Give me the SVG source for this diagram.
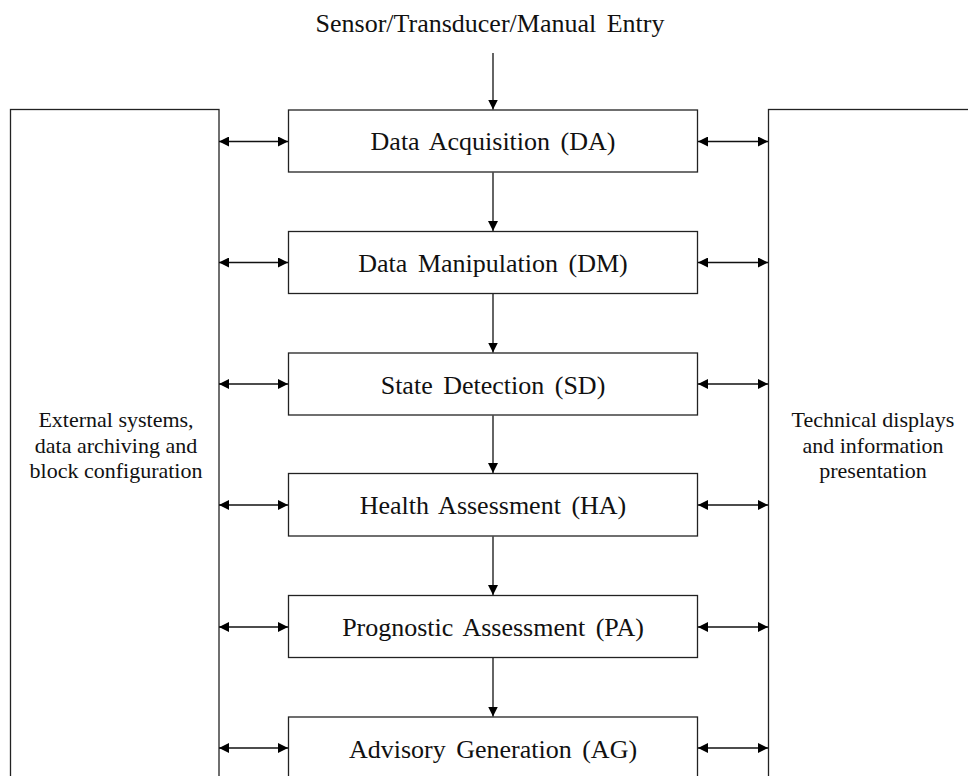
<svg xmlns="http://www.w3.org/2000/svg" width="968" height="776" viewBox="0 0 968 776">
<defs>
<marker id="ah" viewBox="0 0 10 10" refX="10" refY="5" markerWidth="10" markerHeight="10" markerUnits="userSpaceOnUse" orient="auto-start-reverse">
<path d="M0,0 L10,5 L0,10 z" fill="#000"/>
</marker>
<style>
.box{fill:#fff;stroke:#222;stroke-width:1.3}
.lbl{font-family:"Liberation Serif","Times New Roman",serif;font-size:26px;fill:#111;text-anchor:middle;word-spacing:4px}
.side{font-family:"Liberation Serif","Times New Roman",serif;font-size:22px;fill:#111;text-anchor:middle}
.c{stroke:#111;stroke-width:1.3;fill:none}
</style>
</defs>
<rect width="968" height="776" fill="#fff"/>
<text class="lbl" x="490" y="32">Sensor/Transducer/Manual Entry</text>
<g id="external">
<rect class="box" x="10.5" y="109.5" width="208.5" height="700"/>
<text class="side" x="116" y="427">External systems,</text>
<text class="side" x="116" y="453">data archiving and</text>
<text class="side" x="116" y="478">block configuration</text>
</g>
<g id="displays">
<rect class="box" x="768.5" y="109.5" width="260" height="700"/>
<text class="side" x="873" y="427">Technical displays</text>
<text class="side" x="873" y="453">and information</text>
<text class="side" x="873" y="478">presentation</text>
</g>
<g id="DA"><rect class="box" x="288.5" y="110" width="409" height="62"/><text class="lbl" x="493" y="150">Data Acquisition (DA)</text></g>
<g id="DM"><rect class="box" x="288.5" y="231.5" width="409" height="62"/><text class="lbl" x="493" y="272">Data Manipulation (DM)</text></g>
<g id="SD"><rect class="box" x="288.5" y="353" width="409" height="62"/><text class="lbl" x="493" y="393.5">State Detection (SD)</text></g>
<g id="HA"><rect class="box" x="288.5" y="473.5" width="409" height="62.5"/><text class="lbl" x="493" y="514">Health Assessment (HA)</text></g>
<g id="PA"><rect class="box" x="288.5" y="595.5" width="409" height="62"/><text class="lbl" x="493" y="636">Prognostic Assessment (PA)</text></g>
<g id="AG"><rect class="box" x="288.5" y="717" width="409" height="80"/><text class="lbl" x="493" y="757.5">Advisory Generation (AG)</text></g>
<g id="connectors">
<line class="c" x1="493" y1="53" x2="493" y2="109.5" marker-end="url(#ah)"/>
<line class="c" x1="493" y1="172.5" x2="493" y2="231" marker-end="url(#ah)"/>
<line class="c" x1="493" y1="294" x2="493" y2="352.5" marker-end="url(#ah)"/>
<line class="c" x1="493" y1="415.5" x2="493" y2="473" marker-end="url(#ah)"/>
<line class="c" x1="493" y1="536.5" x2="493" y2="595" marker-end="url(#ah)"/>
<line class="c" x1="493" y1="658" x2="493" y2="716.5" marker-end="url(#ah)"/>
<line class="c" x1="219" y1="141.5" x2="288" y2="141.5" marker-start="url(#ah)" marker-end="url(#ah)"/>
<line class="c" x1="219" y1="262.5" x2="288" y2="262.5" marker-start="url(#ah)" marker-end="url(#ah)"/>
<line class="c" x1="219" y1="384" x2="288" y2="384" marker-start="url(#ah)" marker-end="url(#ah)"/>
<line class="c" x1="219" y1="505" x2="288" y2="505" marker-start="url(#ah)" marker-end="url(#ah)"/>
<line class="c" x1="219" y1="627" x2="288" y2="627" marker-start="url(#ah)" marker-end="url(#ah)"/>
<line class="c" x1="219" y1="748" x2="288" y2="748" marker-start="url(#ah)" marker-end="url(#ah)"/>
<line class="c" x1="698" y1="141.5" x2="768" y2="141.5" marker-start="url(#ah)" marker-end="url(#ah)"/>
<line class="c" x1="698" y1="262.5" x2="768" y2="262.5" marker-start="url(#ah)" marker-end="url(#ah)"/>
<line class="c" x1="698" y1="384" x2="768" y2="384" marker-start="url(#ah)" marker-end="url(#ah)"/>
<line class="c" x1="698" y1="505" x2="768" y2="505" marker-start="url(#ah)" marker-end="url(#ah)"/>
<line class="c" x1="698" y1="627" x2="768" y2="627" marker-start="url(#ah)" marker-end="url(#ah)"/>
<line class="c" x1="698" y1="748" x2="768" y2="748" marker-start="url(#ah)" marker-end="url(#ah)"/>
</g>
</svg>
